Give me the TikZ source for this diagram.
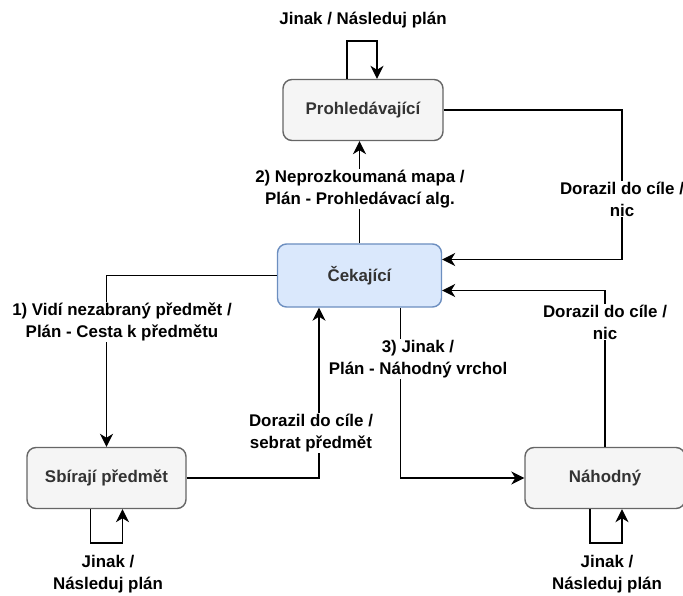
\documentclass[tikz,border=0pt]{standalone}
\usepackage{fontspec}
\setmainfont{Liberation Sans}
\usetikzlibrary{arrows.meta}
\definecolor{boxfill}{HTML}{F5F5F5}
\definecolor{boxline}{HTML}{666666}
\definecolor{boxtext}{HTML}{333333}
\definecolor{bluefill}{HTML}{DAE8FC}
\definecolor{blueline}{HTML}{6C8EBF}
\tikzset{
  state/.style={draw=boxline, fill=boxfill, text=boxtext, rounded corners=9pt, line width=1.4pt, minimum width=160pt, minimum height=61pt, inner sep=0pt, font=\fontsize{16.9}{22}\selectfont\bfseries},
  waitstate/.style={state, draw=blueline, fill=bluefill, minimum width=164pt, minimum height=63pt},
  arr/.style={line width=1.4pt, -{Stealth[length=13pt,width=13pt,inset=4pt]}},
  lbl/.style={fill=white, inner sep=1pt, align=center, font=\fontsize{16.9}{22}\selectfont\bfseries}
}
\begin{document}
\begin{tikzpicture}[x=1pt,y=-1pt]
\useasboundingbox (0,0) rectangle (683,596);
\node[state] (P) at (363,110) {Prohledávající};
\node[waitstate] (C) at (359.5,275.5) {Čekající};
\node[state, minimum width=159pt] (S) at (106.5,478) {Sbírají předmět};
\node[state] (N) at (605,478) {Náhodný};

\coordinate (lpt) at (363,41);
\coordinate (lps) at (106,543);
\coordinate (lpn) at (606,543);
\coordinate (trc) at (622,200);

% self loops
\draw[arr] ([xshift=-16pt]P.north) |- (lpt) -| ([xshift=14pt]P.north);
\draw[arr] ([xshift=-16pt]S.south) |- (lps) -| ([xshift=16pt]S.south);
\draw[arr] ([xshift=-15pt]N.south) |- (lpn) -| ([xshift=17pt]N.south);

% edges
\draw[arr] (C.north) -- (C.north |- P.south);
\draw[arr] (P.east) -| (trc) |- ([yshift=16pt]C.east);
\draw[arr] (N.north) |- ([yshift=-15pt]C.east);
\draw[arr] (C.west) -| (S.north);
\draw[arr] (S.east) -| ([xshift=-40.5pt]C.south);
\draw[arr] ([xshift=41pt]C.south) |- (N.west);

% labels
\node[lbl] (l0) at (363,20) {Jinak / Následuj plán};
\node[lbl] (l2) at (360,189) {2) Neprozkoumaná mapa /\\Plán - Prohledávací alg.};
\node[lbl] (l4) at (622,199) {Dorazil do cíle /\\nic};
\node[lbl] (l5) at (605,322) {Dorazil do cíle /\\nic};
\node[lbl] (l1) at (122,322) {1) Vidí nezabraný předmět /\\Plán - Cesta k předmětu};
\node[lbl] (l3) at (418,359) {3) Jinak /\\Plán - Náhodný vrchol};
\node[lbl] (l6) at (311,433) {Dorazil do cíle /\\sebrat předmět};
\node[lbl] (l7) at (108,574) {Jinak /\\Následuj plán};
\node[lbl] (l8) at (607,574) {Jinak /\\Následuj plán};
\end{tikzpicture}
\end{document}
